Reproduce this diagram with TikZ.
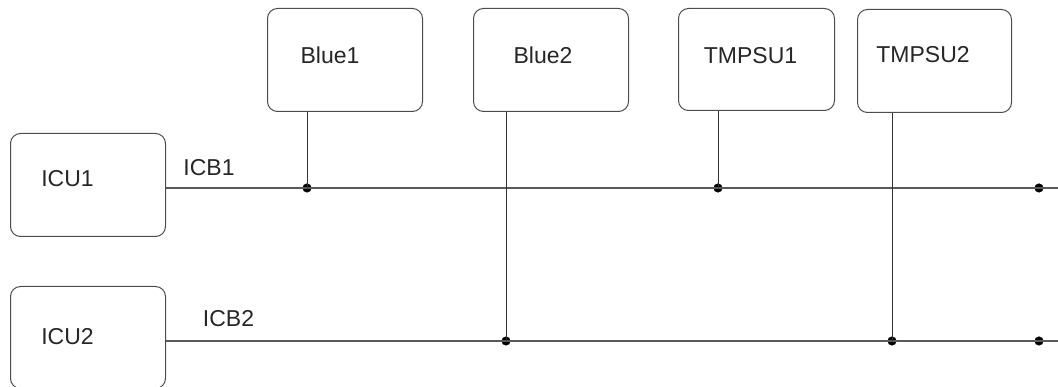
\documentclass[tikz,border=0pt]{standalone}
\usepackage{fontspec}
\setmainfont{Liberation Sans}
\begin{document}
\begin{tikzpicture}[x=1pt,y=-1pt,
  unit/.style={draw=black!70,line width=1pt,rounded corners=10pt,inner sep=0pt,
    minimum width=155pt,minimum height=103pt,anchor=north west},
  txt/.style={inner sep=0pt,text=black!85,font=\fontsize{23}{27}\selectfont},
  bus/.style={draw=black!65,line width=1.2pt},
  drop/.style={draw=black!80,line width=1pt},
  dot/.style={circle,fill=black,draw=black,line width=0.5pt,inner sep=0pt,minimum size=8.5pt}]
\useasboundingbox (0,0) rectangle (1058,387);
% boxes
\node[unit] (icu1) at (10,133) {};
\node[unit,minimum height=102pt] (icu2) at (10,286) {};
\node[unit] (blue1) at (267,8) {};
\node[unit] (blue2) at (473,8) {};
\node[unit,minimum width=156pt,minimum height=102pt] (tmpsu1) at (678,8) {};
\node[unit,minimum width=154pt] (tmpsu2) at (857,9) {};
% texts
\node[txt] (ticu1) at (67.5,178.5) {ICU1};
\node[txt] (ticu2) at (67.5,336.5) {ICU2};
\node[txt] (ticb1) at (209,167.5) {ICB1};
\node[txt] (ticb2) at (228.5,318.5) {ICB2};
\node[txt] (tblue1) at (330,55.5) {Blue1};
\node[txt] (tblue2) at (543,55.5) {Blue2};
\node[txt] (ttmpsu1) at (750.5,56) {TMPSU1};
\node[txt] (ttmpsu2) at (923,54.5) {TMPSU2};
% bus ends and junctions
\coordinate (e1) at (1058,188);
\coordinate (e2) at (1058,341);
\node[dot] (j1) at (307,188) {};
\node[dot] (j2) at (506,341) {};
\node[dot] (j3) at (718,188) {};
\node[dot] (j4) at (892,341) {};
\node[dot] (j5) at (1039,188) {};
\node[dot] (j6) at (1039,341) {};
% buses
\draw[bus] (icu1.east |- e1) -- (e1);
\draw[bus] (icu2.east |- e2) -- (e2);
% drops
\draw[drop] (j1 |- blue1.south) -- (j1.center);
\draw[drop] (j2 |- blue2.south) -- (j2.center);
\draw[drop] (j3 |- tmpsu1.south) -- (j3.center);
\draw[drop] (j4 |- tmpsu2.south) -- (j4.center);
\end{tikzpicture}
\end{document}
